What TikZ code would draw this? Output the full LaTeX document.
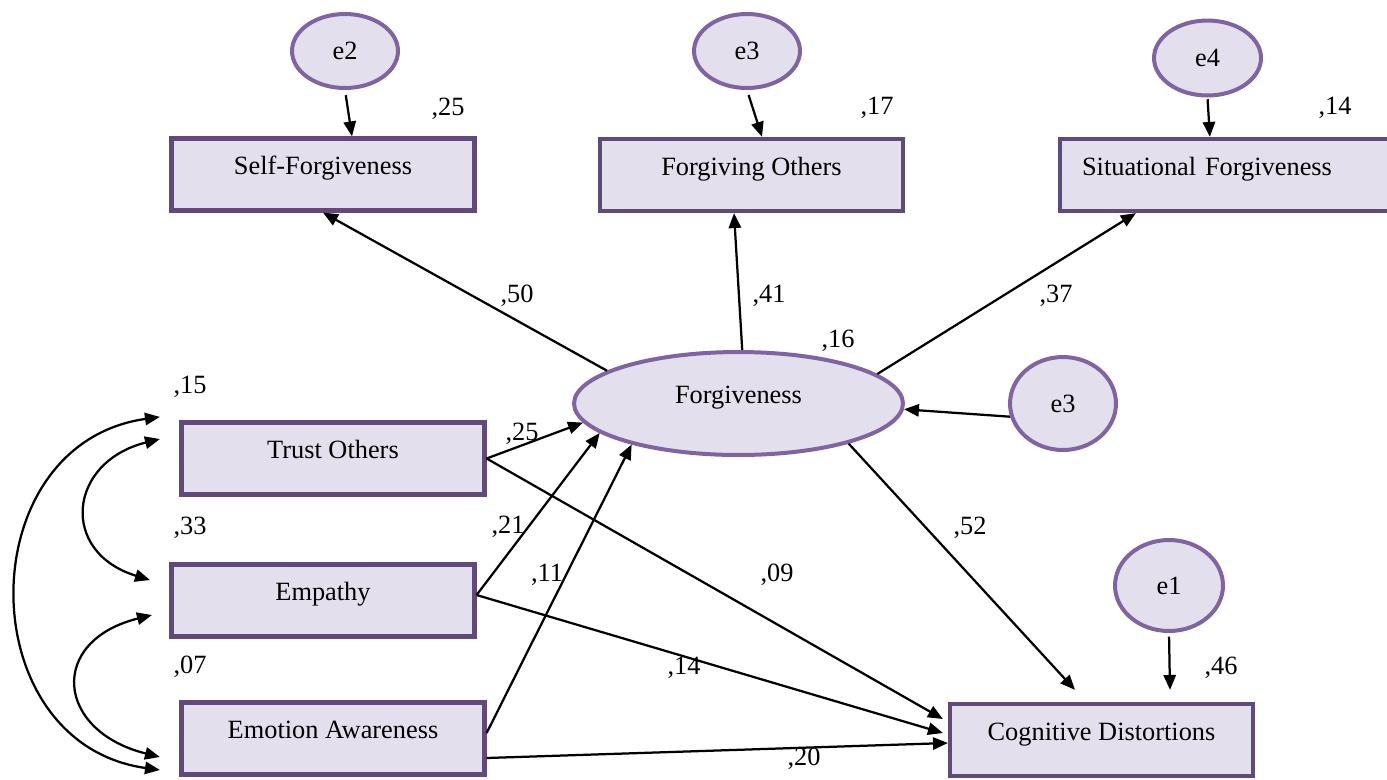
\documentclass[tikz,border=0pt]{standalone}
\usepackage{fontspec}
\setmainfont{Liberation Serif}
\usetikzlibrary{
  arrows.meta,
  shapes.geometric
}
\definecolor{boxfill}{RGB}{228,223,236}
\definecolor{boxline}{RGB}{95,74,122}
\definecolor{ovalline}{RGB}{128,100,162}

\begin{document}
\begin{tikzpicture}[
  x=0.02cm, y=-0.02cm,
  every node/.style={font=\fontsize{15}{18}\selectfont},
  >={Triangle[length=8.5pt,width=7pt]},
  obsbox/.style={draw=boxline, fill=boxfill, line width=0.085cm,
    minimum width=6.06cm, minimum height=1.44cm,
    text height=0.35cm, text depth=0.35cm},
  latoval/.style={ellipse, draw=ovalline, fill=boxfill, line width=0.08cm, inner sep=1pt},
  coef/.style={inner sep=0pt},
  reg/.style={->, line width=0.045cm},
  covar/.style={<->, line width=0.045cm}
]
\useasboundingbox (0,0) rectangle (1387,779);

% Error terms
\node[latoval, minimum width=2.12cm, minimum height=1.48cm] (e2) at (345,51) {e2};
\node[latoval, minimum width=2.12cm, minimum height=1.48cm] (e3top) at (747,51) {e3};
\node[latoval, minimum width=2.14cm, minimum height=1.5cm] (e4) at (1207.5,58) {e4};
\node[latoval, minimum width=2.12cm, minimum height=1.86cm] (e3) at (1063,403.5) {e3};
\node[latoval, minimum width=2.16cm, minimum height=1.82cm] (e1) at (1169,585.5) {e1};

% Latent factor
\node[latoval, minimum width=6.58cm, minimum height=2.06cm,
  text height=0.35cm, text depth=0.35cm] (forg) at (738.5,403.5) {Forgiveness};

% Indicators
\node[obsbox] (selff) at (323,174.5) {Self-Forgiveness};
\node[obsbox] (others) at (751.5,175) {Forgiving Others};
\node[obsbox, minimum width=6.8cm, text width=5.92cm, align=left,
  inner xsep=0.44cm] (situ) at (1230,175) {Situational Forgiveness};

% Predictors and outcome
\node[obsbox] (trust) at (333,458.5) {Trust Others};
\node[obsbox] (empathy) at (323,600.5) {Empathy};
\node[obsbox] (emotion) at (333,738.5) {Emotion Awareness};
\node[obsbox] (cogdist) at (1101.5,740) {Cognitive Distortions};

% Error paths
\draw[reg, shorten <=3pt] (e2.south) -- ([xshift=0.58cm]selff.north);
\draw[reg, shorten <=3pt] (e3top.south) -- ([xshift=0.21cm]others.north);
\draw[reg, shorten <=1pt] (e4.south) -- ([xshift=3.04cm]situ.north west);
\draw[reg, shorten <=2pt] (e1.south) -- ([xshift=1.37cm,yshift=0.24cm]cogdist.north);
\draw[reg] (e3.194) -- (forg.358);

% Loadings
\draw[reg] (forg.166) -- (selff.south);
\draw[reg] (forg.86) -- ([xshift=-0.35cm]others.south);
\draw[reg] (forg.12) -- ([xshift=1.56cm]situ.south west);

% Structural paths
\draw[reg] (trust.east) -- (forg.187);
\draw[reg] ([yshift=0.11cm]empathy.east) -- (forg.192);
\draw[reg] ([yshift=0.11cm]emotion.east) -- (forg.201);
\draw[reg] (forg.340) -- ([xshift=-0.53cm,yshift=0.24cm]cogdist.north);
\draw[reg] (trust.east) -- ([xshift=-0.1cm,yshift=0.42cm]cogdist.west);
\draw[reg] ([yshift=0.11cm]empathy.east) -- ([xshift=-0.1cm,yshift=0.14cm]cogdist.west);
\draw[reg] ([yshift=-0.39cm]emotion.east) -- ([yshift=-0.06cm]cogdist.west);

% Covariances
\coordinate (trout) at ([xshift=-0.39cm,yshift=0.07cm]trust.north west);
\coordinate (trin) at ([xshift=-0.39cm,yshift=0.39cm]trust.west);
\coordinate (empup) at ([xshift=-0.39cm,yshift=0.41cm]empathy.west);
\coordinate (emplow) at ([xshift=-0.35cm,yshift=-0.29cm]empathy.west);
\coordinate (emoin) at ([xshift=-0.39cm,yshift=-0.37cm]emotion.west);
\coordinate (emoout) at ([xshift=-0.39cm,yshift=-0.63cm]emotion.west);
\draw[covar] (trin) .. controls +(194:1.9cm) and +(163:1.9cm) .. (empup);
\draw[covar] (emplow) .. controls +(194:2.15cm) and +(166:2.15cm) .. (emoin);
\draw[covar] (trout) .. controls +(188:3.85cm) and +(172:3.85cm) .. (emoout);

% Estimates
\node[coef] (r2self) at (448,109) {,25};
\node[coef] (r2others) at (877,108) {,17};
\node[coef] (r2situ) at (1335,108) {,14};
\node[coef] (wself) at (517,296) {,50};
\node[coef] (wothers) at (769,296) {,41};
\node[coef] (wsitu) at (1056,296) {,37};
\node[coef] (r2forg) at (838,341) {,16};
\node[coef] (btrust) at (522,434) {,25};
\node[coef] (bemp) at (508,527) {,21};
\node[coef] (bemo) at (547,575) {,11};
\node[coef] (ctrust) at (777,575) {,09};
\node[coef] (bforg) at (970,528) {,52};
\node[coef] (cemp) at (684,668) {,14};
\node[coef] (r2cog) at (1221,668) {,46};
\node[coef] (cemo) at (804,759) {,20};
\node[coef] (vtrust) at (190,387) {,15};
\node[coef] (vemp) at (190,528) {,33};
\node[coef] (vemo) at (190,667) {,07};

\end{tikzpicture}
\end{document}
